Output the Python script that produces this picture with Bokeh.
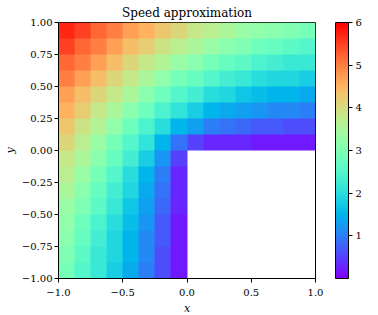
import math
import numpy as np
from bokeh.plotting import figure
from bokeh.models import (LinearColorMapper, ColorBar, FixedTicker, Range1d)
from bokeh.embed import file_html
from bokeh.resources import INLINE

# ---- data (cell values, rows top -> bottom, x from -1 to 1) ----
x_extent = [-1.0, 1.0]
y_extent = [-1.0, 1.0]
H = None  # outside the L-shaped domain
speed_rows = [
    [5.7, 5.5, 5.2, 5.0, 4.7, 4.5, 4.3, 4.1, 3.8, 3.7, 3.5, 3.3, 3.2, 3.1, 3.0, 2.9],
    [5.5, 5.2, 5.0, 4.7, 4.4, 4.2, 3.9, 3.7, 3.5, 3.3, 3.1, 3.0, 2.8, 2.7, 2.6, 2.5],
    [5.2, 5.0, 4.7, 4.4, 4.1, 3.8, 3.6, 3.3, 3.1, 2.9, 2.7, 2.6, 2.4, 2.3, 2.2, 2.2],
    [5.0, 4.7, 4.4, 4.1, 3.8, 3.5, 3.2, 2.9, 2.7, 2.5, 2.3, 2.2, 2.0, 1.9, 1.9, 1.8],
    [4.7, 4.4, 4.1, 3.8, 3.5, 3.1, 2.8, 2.5, 2.3, 2.0, 1.9, 1.7, 1.6, 1.5, 1.5, 1.4],
    [4.5, 4.2, 3.8, 3.5, 3.1, 2.8, 2.4, 2.1, 1.8, 1.5, 1.4, 1.3, 1.2, 1.1, 1.1, 1.0],
    [4.3, 3.9, 3.6, 3.2, 2.8, 2.4, 2.0, 1.5, 1.3, 1.0, 0.9, 0.8, 0.7, 0.7, 0.6, 0.6],
    [4.1, 3.7, 3.3, 2.9, 2.5, 2.1, 1.5, 0.9, 0.5, 0.3, 0.3, 0.3, 0.2, 0.2, 0.2, 0.2],
    [3.8, 3.5, 3.1, 2.7, 2.3, 1.8, 1.2, 0.5, H, H, H, H, H, H, H, H],
    [3.7, 3.3, 2.9, 2.5, 2.0, 1.5, 1.0, 0.3, H, H, H, H, H, H, H, H],
    [3.5, 3.1, 2.7, 2.3, 1.9, 1.4, 0.9, 0.3, H, H, H, H, H, H, H, H],
    [3.3, 3.0, 2.6, 2.2, 1.7, 1.3, 0.8, 0.3, H, H, H, H, H, H, H, H],
    [3.2, 2.8, 2.4, 2.0, 1.6, 1.2, 0.7, 0.2, H, H, H, H, H, H, H, H],
    [3.1, 2.7, 2.3, 1.9, 1.5, 1.1, 0.7, 0.2, H, H, H, H, H, H, H, H],
    [3.0, 2.6, 2.2, 1.9, 1.5, 1.1, 0.6, 0.2, H, H, H, H, H, H, H, H],
    [2.9, 2.5, 2.2, 1.8, 1.4, 1.0, 0.6, 0.2, H, H, H, H, H, H, H, H],
]
color_low, color_high = 0.0, 6.0
x_ticks = [-1.0, -0.5, 0.0, 0.5, 1.0]
x_tick_labels = ["\u22121.0", "\u22120.5", "0.0", "0.5", "1.0"]
y_ticks = [-1.0, -0.75, -0.5, -0.25, 0.0, 0.25, 0.5, 0.75, 1.0]
y_tick_labels = ["\u22121.00", "\u22120.75", "\u22120.50", "\u22120.25", "0.00",
                 "0.25", "0.50", "0.75", "1.00"]
cb_ticks = [1, 2, 3, 4, 5, 6]
cb_tick_labels = ["1", "2", "3", "4", "5", "6"]

# ---- matplotlib "rainbow" colormap (gnuplot 33,13,10) ----
def rainbow(n=256):
    cols = []
    for i in range(n):
        t = i / (n - 1)
        r = min(1.0, abs(2 * t - 0.5))
        g = math.sin(math.pi * t)
        b = math.cos(math.pi * t / 2)
        cols.append("#%02x%02x%02x" % (round(r * 255), round(g * 255), round(max(b, 0) * 255)))
    return cols

palette = rainbow()
img = np.array(speed_rows, dtype=float)[::-1]

FONT = "DejaVu Serif"
p = figure(frame_width=257, frame_height=256, output_backend="svg", toolbar_location=None,
           x_range=Range1d(*x_extent), y_range=Range1d(*y_extent),
           title="Speed approximation", min_border_left=51, min_border_right=5,
           min_border_top=5, min_border_bottom=5)
mapper = LinearColorMapper(palette=palette, low=color_low, high=color_high,
                           nan_color="rgba(0,0,0,0)")
p.image(image=[img], x=x_extent[0], y=y_extent[0],
        dw=x_extent[1] - x_extent[0], dh=y_extent[1] - y_extent[0], color_mapper=mapper)

p.grid.visible = False
p.background_fill_color = "white"
p.outline_line_color = "black"
p.outline_line_alpha = 1
p.outline_line_width = 1
p.title.text_font = FONT
p.title.text_font_style = "normal"
p.title.text_font_size = "12px"
p.title.align = "center"
p.title.text_color = "black"
p.title.standoff = 6

for ax, ticks, labels, lab in ((p.xaxis[0], x_ticks, x_tick_labels, "x"),
                               (p.yaxis[0], y_ticks, y_tick_labels, "y")):
    ax.ticker = FixedTicker(ticks=ticks)
    ax.major_label_overrides = {t: l for t, l in zip(ticks, labels)}
    ax.axis_label = lab
    ax.axis_label_text_font = FONT
    ax.axis_label_text_font_style = "italic"
    ax.axis_label_text_font_size = "11px"
    ax.axis_label_text_color = "black"
    ax.major_label_text_font = FONT
    ax.major_label_text_font_size = "10px"
    ax.major_label_text_color = "black"
    ax.minor_tick_line_color = None
    ax.major_tick_in = 0
    ax.major_tick_out = 4
    ax.major_tick_line_color = "black"
    ax.axis_line_color = "black"
    ax.major_label_standoff = 2
p.xaxis[0].major_label_standoff = 6
p.xaxis[0].axis_label_standoff = 3
p.yaxis[0].axis_label_standoff = 2
p.yaxis[0].major_label_orientation = "horizontal"

cb = ColorBar(color_mapper=mapper, ticker=FixedTicker(ticks=cb_ticks),
              major_label_overrides={t: l for t, l in zip(cb_ticks, cb_tick_labels)},
              width=13, height=256, padding=0, location=(20, 0),
              bar_line_color="black", bar_line_width=1,
              major_tick_in=0, major_tick_out=4, major_tick_line_color="black",
              minor_tick_line_color=None,
              major_label_text_font=FONT, major_label_text_font_size="10px",
              major_label_text_color="black", label_standoff=3,
              background_fill_alpha=0)
p.add_layout(cb, "right")

open("out.html", "w").write(file_html(p, INLINE))
